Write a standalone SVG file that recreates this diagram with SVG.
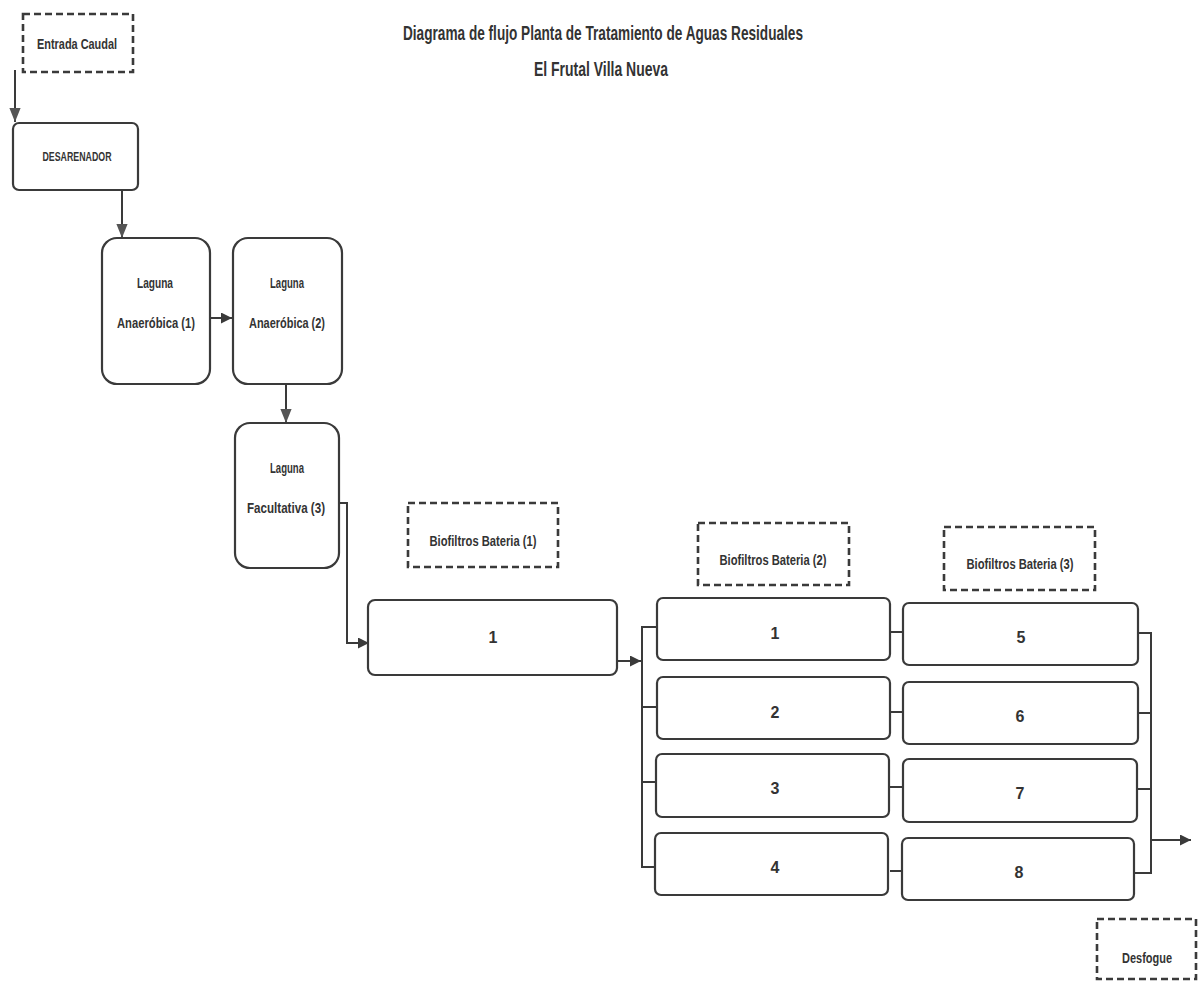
<svg xmlns="http://www.w3.org/2000/svg" width="1198" height="982" viewBox="0 0 1198 982">
<defs>
<style>
.bg{fill:#ffffff}
.box{fill:#ffffff;stroke:#3a3a3a;stroke-width:2.2}
.dash{fill:none;stroke:#3a3a3a;stroke-width:2.6;stroke-dasharray:7 4}
.t{font-family:"Liberation Sans",Arial,sans-serif;font-weight:bold;fill:#333333;text-anchor:middle;dominant-baseline:central}
.title{font-size:21px}
.lbl{font-size:15px}
.num{font-size:16px}
.con{fill:none;stroke:#3a3a3a;stroke-width:2}
</style>
<marker id="ah" viewBox="0 0 10 10" refX="10" refY="5" markerWidth="5.5" markerHeight="5.5" orient="auto" markerUnits="strokeWidth">
<path d="M0,0 L10,5 L0,10 z" fill="#3a3a3a"/>
</marker>
<marker id="ahs" viewBox="0 0 10 10" refX="10" refY="5" markerWidth="7" markerHeight="7" orient="auto" markerUnits="strokeWidth">
<path d="M0,1 L10,5 L0,9 z" fill="#555555"/>
</marker>
</defs>
<rect class="bg" x="0" y="0" width="1198" height="982"/>

<g id="title">
<text class="t title" x="603" y="32" textLength="400" lengthAdjust="spacingAndGlyphs">Diagrama de flujo Planta de Tratamiento de Aguas Residuales</text>
<text class="t title" x="601" y="68" textLength="134" lengthAdjust="spacingAndGlyphs">El Frutal Villa Nueva</text>
</g>

<g id="connectors">
<path class="con" d="M15,70 V122" stroke-width="1.6" marker-end="url(#ahs)"/>
<path class="con" d="M122,190 V238" stroke-width="1.6" marker-end="url(#ahs)"/>
<path class="con" d="M210,318 H232" stroke-width="3" marker-end="url(#ah)"/>
<path class="con" d="M286,384 V423" stroke-width="1.6" marker-end="url(#ahs)"/>
<path class="con" d="M339,503 H347 V643 H369" marker-end="url(#ah)" stroke-width="2.6"/>
<path class="con" d="M617,661 H641" marker-end="url(#ah)" stroke-width="3"/>
<path class="con" d="M657,627 H642 V867 H657 M642,707 H657 M642,782 H657"/>
<path class="con" d="M890,632 H903 M890,712 H903 M890,787 H903 M890,871 H903"/>
<path class="con" d="M1138,633 H1151 V873 H1134 M1138,713 H1151 M1138,789 H1151"/>
<path class="con" d="M1151,840 H1191" marker-end="url(#ah)" stroke-width="3"/>
</g>

<g id="entrada">
<rect class="dash" x="23" y="14" width="110" height="58"/>
<text class="t lbl" x="77" y="43" textLength="80" lengthAdjust="spacingAndGlyphs">Entrada Caudal</text>
</g>

<g id="desarenador">
<rect class="box" x="13" y="123" width="125" height="67" rx="6"/>
<text class="t" font-size="12.5" x="77" y="157" textLength="69" lengthAdjust="spacingAndGlyphs">DESARENADOR</text>
</g>

<g id="laguna1">
<rect class="box" x="102" y="238" width="108" height="146" rx="15"/>
<text class="t lbl" x="155" y="282" textLength="36" lengthAdjust="spacingAndGlyphs">Laguna</text>
<text class="t lbl" x="156" y="322" textLength="78" lengthAdjust="spacingAndGlyphs">Anaeróbica (1)</text>
</g>

<g id="laguna2">
<rect class="box" x="233" y="238" width="109" height="146" rx="15"/>
<text class="t lbl" x="287" y="282" textLength="34" lengthAdjust="spacingAndGlyphs">Laguna</text>
<text class="t lbl" x="287" y="322" textLength="76" lengthAdjust="spacingAndGlyphs">Anaeróbica (2)</text>
</g>

<g id="laguna3">
<rect class="box" x="235" y="423" width="104" height="145" rx="15"/>
<text class="t lbl" x="287" y="467" textLength="34" lengthAdjust="spacingAndGlyphs">Laguna</text>
<text class="t lbl" x="286" y="507" textLength="78" lengthAdjust="spacingAndGlyphs">Facultativa (3)</text>
</g>

<g id="biofiltros-bateria-1">
<rect class="dash" x="408" y="503" width="150" height="64"/>
<text class="t lbl" x="483" y="540" textLength="107" lengthAdjust="spacingAndGlyphs">Biofiltros Bateria (1)</text>
</g>

<g id="biofiltros-bateria-2">
<rect class="dash" x="698" y="523" width="151" height="62"/>
<text class="t lbl" x="773" y="559" textLength="107" lengthAdjust="spacingAndGlyphs">Biofiltros Bateria (2)</text>
</g>

<g id="biofiltros-bateria-3">
<rect class="dash" x="944" y="527" width="151" height="63"/>
<text class="t lbl" x="1020" y="563" textLength="107" lengthAdjust="spacingAndGlyphs">Biofiltros Bateria (3)</text>
</g>

<g id="b1-filtro-1">
<rect class="box" x="368" y="600" width="249" height="75" rx="7"/>
<text class="t num" x="493" y="637">1</text>
</g>

<g id="b2-filtro-1">
<rect class="box" x="657" y="598" width="233" height="62" rx="6"/>
<text class="t num" x="775" y="633">1</text>
</g>
<g id="b2-filtro-2">
<rect class="box" x="657" y="677" width="233" height="62" rx="6"/>
<text class="t num" x="775" y="712">2</text>
</g>
<g id="b2-filtro-3">
<rect class="box" x="656" y="754" width="233" height="63" rx="6"/>
<text class="t num" x="775" y="788">3</text>
</g>
<g id="b2-filtro-4">
<rect class="box" x="655" y="833" width="233" height="62" rx="6"/>
<text class="t num" x="775" y="867">4</text>
</g>

<g id="b3-filtro-5">
<rect class="box" x="903" y="603" width="235" height="62" rx="6"/>
<text class="t num" x="1021" y="637">5</text>
</g>
<g id="b3-filtro-6">
<rect class="box" x="903" y="682" width="235" height="62" rx="6"/>
<text class="t num" x="1020" y="716">6</text>
</g>
<g id="b3-filtro-7">
<rect class="box" x="903" y="759" width="234" height="63" rx="6"/>
<text class="t num" x="1020" y="793">7</text>
</g>
<g id="b3-filtro-8">
<rect class="box" x="902" y="838" width="232" height="62" rx="6"/>
<text class="t num" x="1019" y="872">8</text>
</g>

<g id="desfogue">
<rect class="dash" x="1097" y="919" width="99" height="60"/>
<text class="t lbl" x="1147" y="957" textLength="50" lengthAdjust="spacingAndGlyphs">Desfogue</text>
</g>
</svg>
